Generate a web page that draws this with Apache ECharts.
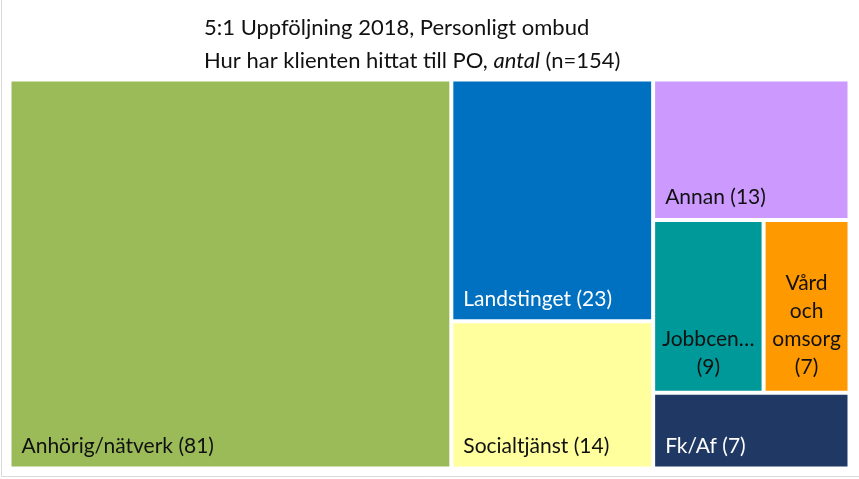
<!DOCTYPE html>
<html>
<head>
<meta charset="utf-8">
<script src="https://cdn.jsdelivr.net/npm/echarts@6/dist/echarts.min.js"></script>
<style>
html,body{margin:0;padding:0;background:#fff;}
#chart{width:859px;height:479px;}
</style>
</head>
<body>
<div id="chart"></div>
<script>
// Data
const categories = ['Anhörig/nätverk', 'Landstinget', 'Socialtjänst', 'Annan', 'Jobbcentrum', 'Fk/Af', 'Vård och omsorg'];
const values = [81, 23, 14, 13, 9, 7, 7];
const shownNames = ['Anhörig/nätverk', 'Landstinget', 'Socialtjänst', 'Annan', 'Jobbcen…', 'Fk/Af', 'Vård\noch\nomsorg'];
const colors = ['#9BBB59', '#0070C0', '#FFFF9E', '#CC99FF', '#009999', '#203864', '#FF9900'];
const labelColors = ['#111', '#fff', '#111', '#111', '#111', '#fff', '#111'];
const stacked = [false, false, false, false, true, false, true];
const titleLine1 = '5:1 Uppföljning 2018, Personligt ombud';
const titleLine2 = 'Hur har klienten hittat till PO, {i|antal} (n=154)';

const FONT = 'Lato';
const data = categories.map(function (c, i) {
  const lbl = {
    formatter: shownNames[i] + (stacked[i] ? '\n' : ' ') + '({c})',
    color: labelColors[i]
  };
  if (stacked[i]) {
    lbl.position = 'insideBottom';
    lbl.align = 'center';
    lbl.lineHeight = 28;
  }
  return {
    name: c,
    value: values[i],
    itemStyle: { color: colors[i] },
    label: lbl
  };
});

const chart = echarts.init(document.getElementById('chart'), null, { renderer: 'canvas' });
chart.setOption({
  animation: false,
  backgroundColor: '#fff',
  title: {
    text: titleLine1 + '\n' + titleLine2,
    left: 199,
    top: 6,
    textStyle: {
      fontFamily: FONT,
      fontSize: 22,
      fontWeight: 'normal',
      color: '#111',
      lineHeight: 33,
      rich: {
        i: { fontFamily: FONT, fontSize: 22, fontStyle: 'italic', color: '#111', lineHeight: 33 }
      }
    }
  },
  graphic: [{
    type: 'rect',
    shape: { x: 1.5, y: -2, width: 862, height: 478.5 },
    style: { fill: 'none', stroke: '#d9d9d9', lineWidth: 1 },
    silent: true
  }],
  series: [{
    type: 'treemap',
    left: 11.5,
    top: 81.5,
    width: 836,
    height: 385,
    squareRatio: 1,
    roam: false,
    nodeClick: false,
    breadcrumb: { show: false },
    sort: 'desc',
    label: {
      show: true,
      position: 'insideBottomLeft',
      distance: 5,
      fontFamily: FONT,
      fontSize: 21,
      overflow: 'none'
    },
    upperLabel: { show: false },
    itemStyle: { borderWidth: 0, gapWidth: 4, borderColor: '#fff' },
    levels: [
      { itemStyle: { borderWidth: 0, gapWidth: 4, borderColor: '#fff' } },
      { itemStyle: { borderWidth: 0, gapWidth: 0 } }
    ],
    data: data
  }]
});
</script>
</body>
</html>
